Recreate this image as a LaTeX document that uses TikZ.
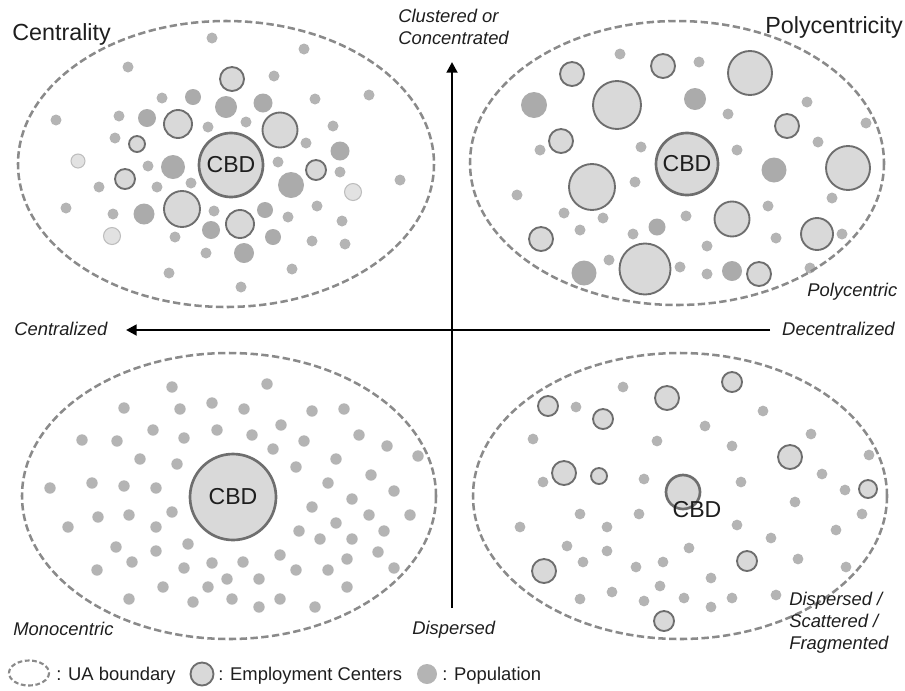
\documentclass[tikz,border=0pt]{standalone}
\usepackage{fontspec}
\setmainfont{Liberation Sans}
\usetikzlibrary{arrows.meta}

\definecolor{popgray}{HTML}{B4B4B4}
\definecolor{popdark}{HTML}{ABABAB}
\definecolor{empfill}{HTML}{D9D9D9}
\definecolor{empline}{HTML}{6E6E6E}
\definecolor{lightdot}{HTML}{E2E2E2}
\definecolor{lightline}{HTML}{BDBDBD}
\definecolor{boundary}{HTML}{8A8A8A}
\definecolor{ink}{HTML}{1E1E1E}

\tikzset{
  pop/.style={fill=popgray},
  popbig/.style={fill=popdark},
  empc/.style={fill=empfill, draw=empline, line width=1.4pt},
  lightc/.style={fill=lightdot, draw=lightline, line width=0.8pt},
  cbdc/.style={fill=empfill, draw=empline, line width=2pt},
  uabound/.style={draw=boundary, line width=1.9pt, dash pattern=on 5.5pt off 2.6pt},
  axis/.style={draw=black, line width=2.2pt, -{Triangle[length=8pt,width=8pt]}},
  title/.style={font=\fontsize{17.5}{20}\selectfont, text=ink, inner sep=0pt},
  axlabel/.style={font=\fontsize{13.8}{16.5}\selectfont\itshape, text=ink, inner sep=0pt, align=left},
  cbdlabel/.style={font=\fontsize{17.3}{20}\selectfont, text=ink, inner sep=0pt},
  legendtext/.style={font=\fontsize{13.8}{16}\selectfont, text=ink, inner sep=0pt},
}

\begin{document}
\begin{tikzpicture}[x=0.75pt, y=-0.75pt]
\useasboundingbox (0,0) rectangle (905,690);

% ---------- Centrality (upper left) ----------
\foreach \x/\y/\r in {212/38/5.5, 304/49/5.5, 128/67/5.5, 274/76/5.5, 369/95/5.5,
  162/98/5.5, 315/99/5.5, 56/120/5.5, 119/116/5.5, 208/127/5.5, 246/122/5.5,
  333/126/5.5, 115/138/5.5, 306/143/5.5, 148/166/5.5, 278/162/5.5, 191/183/5.5,
  157/187/5.5, 99/187/5.5, 340/172/5.5, 400/180/5.5, 66/208/5.5, 113/214/5.5,
  214/211/5.5, 317/206/5.5, 288/217/5.5, 342/221/5.5, 175/237/5.5, 312/241/5.5,
  345/244/5.5, 206/253/5.5, 169/273/5.5, 292/269/5.5, 241/287/5.5}
  \fill[pop] (\x,\y) circle (\r);
\foreach \x/\y/\r in {193/97/8, 226/107/11, 263/103/9.5, 147/118/9, 340/151/9.5,
  173/167/12, 291/185/13, 144/214/10.5, 265/210/8, 211/230/9, 273/237/8, 244/253/10}
  \fill[popbig] (\x,\y) circle (\r);
\foreach \x/\y/\r in {78/161/7, 112/236/8.5, 353/192/8.5}
  \draw[lightc] (\x,\y) circle (\r);
\foreach \x/\y/\r in {232/79/12, 178/124/14, 280/130/17.5, 137/144/8, 125/179/10,
  316/170/10, 182/209/18, 240/224/14}
  \draw[empc] (\x,\y) circle (\r);
\draw[cbdc] (231,165) circle (32);
\node[cbdlabel] (cbd-ul) at (231,165) {CBD};
\draw[uabound] (226,164) ellipse (208 and 143);

% ---------- Polycentricity (upper right) ----------
\foreach \x/\y/\r in {620/54/5.5, 699/62/5.5, 807/102/5.5, 728/114/5.5, 866/123/5.5,
  540/150/5.5, 641/147/5.5, 737/150/5.5, 818/142/5.5, 635/182/5.5, 517/195/5.5,
  832/198/5.5, 564/213/5.5, 603/218/5.5, 686/216/5.5, 768/206/5.5, 580/230/5.5,
  633/234/5.5, 707/246/5.5, 776/238/5.5, 842/234/5.5, 609/260/5.5, 680/267/5.5,
  707/274/5.5, 810/268/5.5}
  \fill[pop] (\x,\y) circle (\r);
\foreach \x/\y/\r in {534/105/13, 695/99/11, 774/170/12.5, 657/227/8.5,
  584/273/12.5, 732/271/10}
  \fill[popbig] (\x,\y) circle (\r);
\foreach \x/\y/\r in {572/74/12, 617/105/24, 663/66/12, 750/73/22, 561/141/12,
  787/126/12, 592/187/23, 848/168/22, 732/219/17.5, 541/239/12, 817/234/16,
  645/269/25.5, 759/274/12}
  \draw[empc] (\x,\y) circle (\r);
\draw[cbdc] (687,164) circle (31);
\node[cbdlabel] (cbd-ur) at (687,164) {CBD};
\draw[uabound] (677,163) ellipse (207 and 142);

% ---------- Monocentric (lower left) ----------
\foreach \x/\y in {172/387, 267/384, 124/408, 180/409, 212/403, 244/409, 312/411,
  344/409, 153/430, 217/430, 82/440, 117/441, 184/438, 252/435, 281/425, 304/441,
  359/435, 387/446, 418/456, 140/459, 177/464, 273/449, 296/467, 336/459, 371/475,
  50/488, 92/483, 124/486, 156/488, 328/483, 394/491, 352/499, 312/507, 172/512,
  98/517, 129/515, 68/527, 156/527, 369/515, 410/515, 336/523, 299/531, 320/539,
  352/539, 384/531, 116/547, 188/544, 156/551, 280/555, 378/552, 132/562, 184/568,
  212/563, 243/562, 347/559, 97/570, 296/570, 328/570, 394/568, 227/579, 259/579,
  163/587, 208/587, 347/587, 129/599, 193/602, 232/599, 280/599, 259/607, 315/607}
  \fill[pop] (\x,\y) circle (5.7);
\draw[cbdc] (233,497) circle (43);
\node[cbdlabel] (cbd-ll) at (233,497) {CBD};
\draw[uabound] (229,496) ellipse (207 and 143);

% ---------- Dispersed (lower right) ----------
\foreach \x/\y in {623/387, 576/407, 763/411, 705/426, 811/434, 533/439, 657/441,
  732/446, 869/455, 822/474, 543/482, 644/479, 741/482, 845/490, 795/502, 580/514,
  639/514, 862/514, 520/527, 607/527, 737/525, 771/538, 836/530, 567/546, 607/551,
  689/548, 583/562, 636/567, 663/562, 798/559, 846/567, 711/578, 660/586, 612/592,
  580/599, 644/601, 684/598, 732/598, 776/595, 711/607}
  \fill[pop] (\x,\y) circle (5.4);
\foreach \x/\y/\r in {548/406/10, 603/419/10, 667/398/12, 732/382/10, 790/457/12,
  564/473/12, 599/476/8, 868/489/9, 747/561/10, 544/571/12, 664/621/10}
  \draw[empc] (\x,\y) circle (\r);
\draw[cbdc] (683,492) circle (17);
\node[cbdlabel, anchor=base] (cbd-lr) at (697,517) {CBD};
\draw[uabound] (680,496) ellipse (207 and 143);

% ---------- Axes ----------
\coordinate (ax-bottom) at (452,608);
\coordinate (ax-top) at (452,62);
\coordinate (ax-right) at (770,330);
\coordinate (ax-left) at (126,330);
\draw[axis] (ax-bottom) -- (ax-top);
\draw[axis] (ax-right) -- (ax-left);

% ---------- Labels ----------
\node[title, anchor=base west] (t-central) at (12,40) {Centrality};
\node[title, anchor=base east] (t-poly) at (903,33) {Polycentricity};
\node[axlabel, anchor=base west] (l-clust1) at (398,22) {Clustered or};
\node[axlabel, anchor=base west] (l-clust2) at (398,44) {Concentrated};
\node[axlabel, anchor=base west] (l-centr) at (14,335) {Centralized};
\node[axlabel, anchor=base east] (l-decentr) at (895,335) {Decentralized};
\node[axlabel, anchor=base west] (l-polyc) at (807,296) {Polycentric};
\node[axlabel, anchor=base west] (l-mono) at (13,635) {Monocentric};
\node[axlabel, anchor=base west] (l-disp) at (412,634) {Dispersed};
\node[axlabel, anchor=base west] (l-frag1) at (789,605) {Dispersed /};
\node[axlabel, anchor=base west] (l-frag2) at (789,627) {Scattered /};
\node[axlabel, anchor=base west] (l-frag3) at (789,649) {Fragmented};

% ---------- Legend ----------
\draw[uabound, line width=1.6pt, dash pattern=on 3.5pt off 2pt] (29,673) ellipse (20 and 12.5);
\node[legendtext, anchor=base west] (lg-ua) at (56,680) {: UA boundary};
\draw[empc] (202,674) circle (11.5);
\node[legendtext, anchor=base west] (lg-emp) at (218,680) {: Employment Centers};
\fill[pop] (427,674) circle (10);
\node[legendtext, anchor=base west] (lg-pop) at (442,680) {: Population};
\end{tikzpicture}
\end{document}
